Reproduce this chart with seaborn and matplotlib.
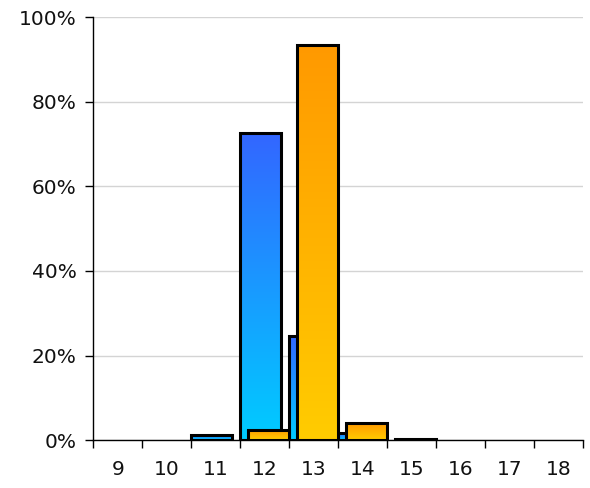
import numpy as np
import pandas as pd
import matplotlib
matplotlib.use("Agg")
import matplotlib.pyplot as plt
import seaborn as sns
from matplotlib.colors import LinearSegmentedColormap
from matplotlib.ticker import PercentFormatter, FixedLocator

sizes = ["9", "10", "11", "12", "13", "14", "15", "16", "17", "18"]
blue_share = [0.0, 0.0, 0.012, 0.726, 0.246, 0.016, 0.0, 0.0, 0.0, 0.0]
orange_share = [0.0, 0.0, 0.0, 0.024, 0.934, 0.040, 0.003, 0.0, 0.0, 0.0]
series = ["A", "B"]

df = pd.DataFrame({
    "size": sizes * 2,
    "share": blue_share + orange_share,
    "series": [series[0]] * len(sizes) + [series[1]] * len(sizes),
})

gradients = {
    "A": LinearSegmentedColormap.from_list("blue", ["#00CCFF", "#3366FF"]),
    "B": LinearSegmentedColormap.from_list("orange", ["#FFCC00", "#FF9900"]),
}

sns.set_style("white")
plt.rcParams["font.family"] = ["DejaVu Sans"]

fig = plt.figure(figsize=(5.9, 4.88), dpi=100)
ax = fig.add_axes([0.158, 0.098, 0.83, 0.867])

sns.barplot(data=df, x="size", y="share", hue="series", order=sizes,
            hue_order=series, dodge=True, width=0.328, errorbar=None,
            legend=False, ax=ax)

# widen the dodged bars so the two series overlap like the original
bar_w = 0.84
grad = np.linspace(0, 1, 256).reshape(-1, 1)
n = len(sizes)
for i, patch in enumerate(ax.patches[:2 * n]):
    key = series[i // n]
    z = 2 if key == "A" else 3
    cx = patch.get_x() + patch.get_width() / 2
    h = patch.get_height()
    patch.set_x(cx - bar_w / 2)
    patch.set_width(bar_w)
    if h <= 0:
        patch.set_visible(False)
        continue
    patch.set_facecolor("none")
    patch.set_edgecolor("black")
    patch.set_linewidth(2.2)
    patch.set_zorder(z + 0.5)
    im = ax.imshow(grad, cmap=gradients[key], origin="lower", aspect="auto",
                   extent=[cx - bar_w / 2, cx + bar_w / 2, 0, h], zorder=z)
    im.set_clip_path(patch)

ax.set_xlim(-0.5, n - 0.5)
ax.set_ylim(0, 1)
ax.set_aspect("auto")
ax.yaxis.set_major_locator(FixedLocator([0, 0.2, 0.4, 0.6, 0.8, 1.0]))
ax.yaxis.set_major_formatter(PercentFormatter(1.0, decimals=0))
ax.set_xticks(np.arange(n))
ax.set_xticklabels(sizes)
ax.set_xticks(np.arange(n + 1) - 0.5, minor=True)
ax.tick_params(axis="x", which="major", bottom=False, length=0, pad=14,
               labelsize=14.5, labelcolor="#111111")
ax.tick_params(axis="x", which="minor", bottom=True, length=6, width=1,
               color="black", direction="out")
ax.tick_params(axis="y", left=True, length=6, width=1, color="black",
               direction="out", labelsize=14.5, labelcolor="#111111", pad=6)
ax.yaxis.grid(True, color="#d4d4d4", linewidth=1)
ax.set_axisbelow(True)
sns.despine(ax=ax, top=True, right=True)
for side in ["left", "bottom"]:
    ax.spines[side].set_color("black")
    ax.spines[side].set_linewidth(1)
ax.spines["bottom"].set_zorder(5)
ax.set_xlabel("")
ax.set_ylabel("")

fig.savefig("out.png", dpi=100)
